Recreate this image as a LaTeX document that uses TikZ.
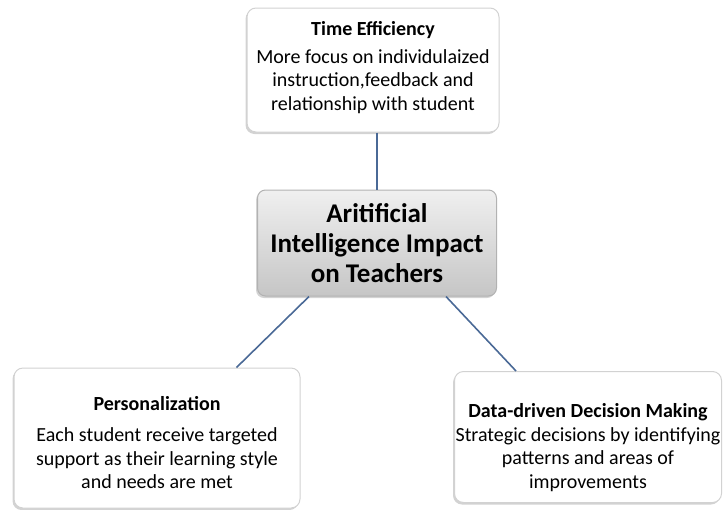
\documentclass[tikz,border=0pt]{standalone}
\usepackage{fontspec}
\setmainfont{Carlito}
\usepackage{xcolor}
\usetikzlibrary{shapes,arrows,positioning,shadows}

\definecolor{linkblue}{RGB}{74,105,150}

% bold heading line inside a box, with a strut to push the text down
\newcommand{\boxhead}[2]{{\rule{0pt}{#1}\bfseries\fontsize{20}{22}\selectfont #2}}

\begin{document}
\begin{tikzpicture}[
    x=1pt, y=-1pt,
    box/.style={rectangle, rounded corners=9pt, draw=gray!35, fill=white, line width=1pt,
        drop shadow={shadow xshift=-1.5pt, shadow yshift=-2pt, opacity=0.35},
        align=center, font=\fontsize{20}{23.5}\selectfont, inner xsep=1pt, inner ysep=4pt},
    hub/.style={rectangle, rounded corners=8pt, draw=gray!60, line width=1pt,
        top color=gray!12, bottom color=gray!45,
        drop shadow={shadow xshift=-1.5pt, shadow yshift=-2pt, opacity=0.35},
        align=center, font=\bfseries\fontsize{27}{30}\selectfont},
    link/.style={draw=linkblue, line width=1.6pt}
]
    \useasboundingbox (0,0) rectangle (727,509);

    \node[box, minimum width=252pt, minimum height=124pt] (time) at (373,70)
        {\boxhead{0pt}{Time Efficiency}\\[4pt]
         More focus on individulaized\\instruction,feedback and\\
         relationship with student\rule[-8pt]{0pt}{8pt}};
    \node[hub, minimum width=239pt, minimum height=106pt] (ai) at (377,243)
        {Aritificial\\Intelligence Impact\\on Teachers};
    \node[box, minimum width=286pt, minimum height=140pt] (person) at (157,438)
        {\boxhead{23pt}{Personalization}\\[8pt]
         Each student receive targeted\\support as their learning style\\and needs are met};
    \node[box, minimum width=267pt, minimum height=131pt] (data) at (588,437)
        {\boxhead{35pt}{Data-driven Decision Making}\\[0pt]
         Strategic decisions by identifying\\patterns and areas of\\improvements};

    \draw[link] (time.south -| ai.north) -- (ai.north);
    \draw[link] ([xshift=52pt]ai.south west) -- ([xshift=-64pt]person.north east);
    \draw[link] ([xshift=-51pt]ai.south east) -- ([xshift=62pt]data.north west);
\end{tikzpicture}
\end{document}
